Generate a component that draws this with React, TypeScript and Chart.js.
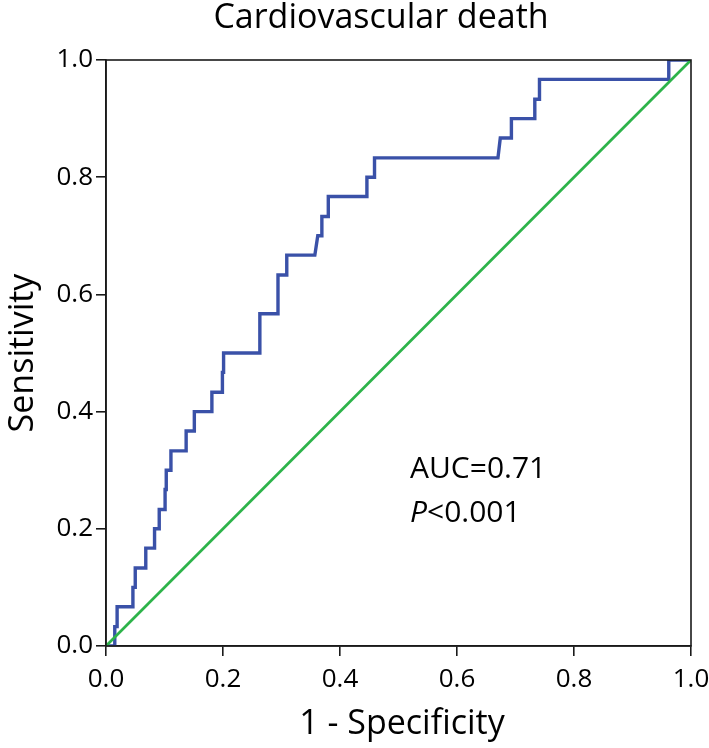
import React, { useEffect, useRef } from "react";
import { Chart, registerables } from "chart.js";

Chart.register(...registerables);

// ROC curve vertices (1 - specificity, sensitivity)
const rocFpr = [
  0, 0.015, 0.015, 0.019, 0.019, 0.046, 0.046, 0.05, 0.05, 0.068, 0.068, 0.083, 0.083,
  0.091, 0.091, 0.101, 0.101, 0.103, 0.103, 0.111, 0.111, 0.137, 0.137, 0.151, 0.151,
  0.181, 0.181, 0.199, 0.199, 0.201, 0.201, 0.263, 0.263, 0.294, 0.294, 0.309, 0.309,
  0.357, 0.362, 0.368, 0.369, 0.38, 0.38, 0.446, 0.446, 0.459, 0.459, 0.67, 0.674,
  0.693, 0.693, 0.733, 0.733, 0.741, 0.741, 0.962, 0.962, 1.0,
];
const rocTpr = [
  0, 0, 0.033, 0.033, 0.067, 0.067, 0.1, 0.1, 0.133, 0.133, 0.167, 0.167, 0.2,
  0.2, 0.233, 0.233, 0.267, 0.267, 0.3, 0.3, 0.333, 0.333, 0.367, 0.367, 0.4,
  0.4, 0.433, 0.433, 0.467, 0.467, 0.5, 0.5, 0.567, 0.567, 0.633, 0.633, 0.667,
  0.667, 0.7, 0.7, 0.733, 0.733, 0.767, 0.767, 0.8, 0.8, 0.833, 0.833, 0.867,
  0.867, 0.9, 0.9, 0.933, 0.933, 0.967, 0.967, 1.0, 1.0,
];
const refX = [0, 1];
const refY = [0, 1];
const axisTicks = [0, 0.2, 0.4, 0.6, 0.8, 1.0];

const chartTitle = "Cardiovascular death";
const xTitle = "1 - Specificity";
const yTitle = "Sensitivity";
const aucText = "AUC=0.71";
const pLabel = "P";
const pText = "<0.001";

const FONT = "'Open Sans', 'Noto Sans', sans-serif";

const textPlugin = {
  id: "textPlugin",
  afterDraw(chart: any) {
    const { ctx, chartArea } = chart;
    ctx.save();
    ctx.strokeStyle = "#1a1a1a";
    ctx.lineWidth = 1.6;
    ctx.strokeRect(chartArea.left, chartArea.top, chartArea.right - chartArea.left, chartArea.bottom - chartArea.top);
    ctx.fillStyle = "#000";
    ctx.textBaseline = "alphabetic";
    ctx.textAlign = "center";
    ctx.font = `34px ${FONT}`;
    ctx.fillText(chartTitle, 381, 28);
    ctx.font = `34px ${FONT}`;
    ctx.fillText(xTitle, 402, 734);
    ctx.save();
    ctx.translate(33, 353);
    ctx.rotate(-Math.PI / 2);
    ctx.fillText(yTitle, 0, 0);
    ctx.restore();
    ctx.textAlign = "left";
    ctx.font = `30px ${FONT}`;
    ctx.fillText(aucText, 410, 478);
    ctx.font = `italic 30px ${FONT}`;
    ctx.fillText(pLabel, 410, 522);
    const pw = ctx.measureText(pLabel).width;
    ctx.font = `30px ${FONT}`;
    ctx.fillText(pText, 410 + pw, 522);
    ctx.restore();
  },
};

export default function App() {
  const ref = useRef<HTMLCanvasElement>(null);
  useEffect(() => {
    if (!ref.current) return;
    const rocData = rocFpr.map((x, i) => ({ x, y: rocTpr[i] }));
    const refData = refX.map((x, i) => ({ x, y: refY[i] }));
    const tickFont = { family: FONT, size: 26 };
    const chart = new Chart(ref.current, {
      type: "scatter",
      data: {
        datasets: [
          {
            data: refData,
            showLine: true,
            borderColor: "#2db34a",
            borderWidth: 2.7,
            pointRadius: 0,
            fill: false,
          },
          {
            data: rocData,
            showLine: true,
            borderColor: "#3a51a8",
            borderWidth: 3.4,
            pointRadius: 0,
            fill: false,
          },
        ],
      },
      options: {
        animation: false,
        responsive: false,
        maintainAspectRatio: false,
        layout: { padding: { top: 60, right: 18, left: 0, bottom: 0 } },
        plugins: { legend: { display: false }, tooltip: { enabled: false }, title: { display: false } },
        scales: {
          x: {
            type: "linear",
            min: 0,
            max: 1,
            afterBuildTicks: (s: any) => {
              s.ticks = axisTicks.map((v) => ({ value: v }));
            },
            afterFit: (s: any) => {
              s.height = 102;
              s.paddingLeft = 0;
              s.paddingRight = 0;
            },
            ticks: {
              font: tickFont,
              color: "#000",
              padding: 8,
              maxRotation: 0,
              callback: (v: any) => Number(v).toFixed(1),
            },
            grid: { drawOnChartArea: false, drawTicks: true, tickLength: 10, color: "#1a1a1a", lineWidth: 1.6 },
            border: { display: true, color: "#1a1a1a", width: 1.6 },
          },
          y: {
            type: "linear",
            min: 0,
            max: 1,
            afterBuildTicks: (s: any) => {
              s.ticks = axisTicks.map((v) => ({ value: v }));
            },
            afterFit: (s: any) => {
              s.width = 106;
              s.paddingTop = 0;
              s.paddingBottom = 0;
            },
            ticks: {
              font: tickFont,
              color: "#000",
              padding: 3,
              callback: (v: any) => Number(v).toFixed(1),
            },
            grid: { drawOnChartArea: false, drawTicks: true, tickLength: 10, color: "#1a1a1a", lineWidth: 1.6 },
            border: { display: true, color: "#1a1a1a", width: 1.6 },
          },
        },
      },
      plugins: [textPlugin],
    });
    return () => chart.destroy();
  }, []);
  return (
    <div style={{ position: "fixed", left: 0, top: 0, width: 709, height: 748, background: "#fff" }}>
      <canvas ref={ref} width={709} height={748} style={{ width: 709, height: 748, display: "block" }} />
    </div>
  );
}
